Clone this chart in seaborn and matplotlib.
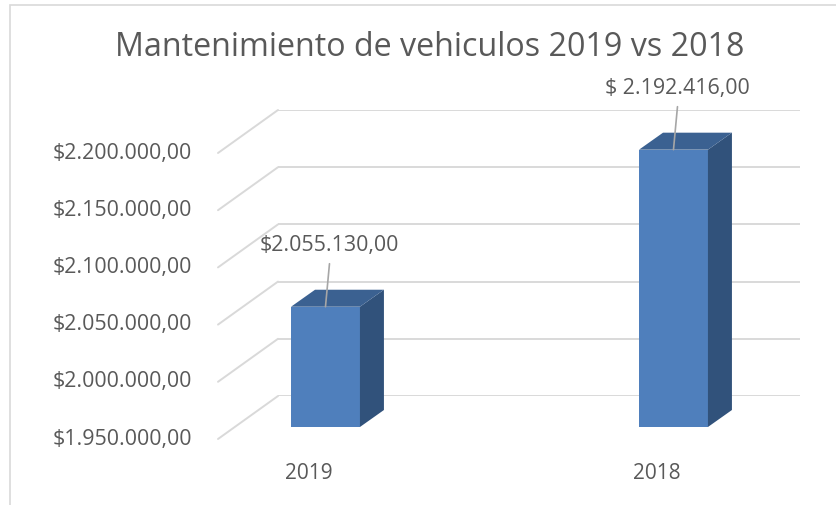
import numpy as np
import pandas as pd
import seaborn as sns
import matplotlib.pyplot as plt
from matplotlib.patches import Polygon, Rectangle
from matplotlib.lines import Line2D
from matplotlib.transforms import ScaledTranslation, IdentityTransform, blended_transform_factory

# data
years = ['2019', '2018']
costs = [2055130.00, 2192416.00]
value_labels = ['$2.055.130,00', '$ 2.192.416,00']
ticks = [1950000, 2000000, 2050000, 2100000, 2150000, 2200000]
tick_labels = ['$1.950.000,00', '$2.000.000,00', '$2.050.000,00',
               '$2.100.000,00', '$2.150.000,00', '$2.200.000,00']
title = 'Mantenimiento de vehiculos 2019 vs 2018'

df = pd.DataFrame({'year': years, 'cost': costs})

sns.set_theme(style='white')
plt.rcParams['font.family'] = ['Open Sans', 'DejaVu Sans']

front_col = '#4f7fbc'
top_col = '#3b6191'
side_col = '#31527b'
grid_col = '#d9d9d9'
text_col = '#595959'

W, H, DPI = 837, 505, 100
fig = plt.figure(figsize=(W / DPI, H / DPI), dpi=DPI)


def shift(dx, dy):
    # offset in image pixels (y down)
    return ScaledTranslation(dx / DPI, -dy / DPI, fig.dpi_scale_trans)


# axes = back wall of the 3d box
ax = fig.add_axes([278 / W, 1 - 396 / H, 522 / W, 286 / H])
sns.barplot(data=df, x='year', y='cost', ax=ax, color=front_col,
            width=0.198, saturation=1, linewidth=0)
ax.set_ylim(ticks[0], ticks[-1])
ax.set_xlim(-0.26, 1.24)
ax.set_yticks(ticks)
ax.yaxis.grid(True, color=grid_col, lw=1.4)
ax.set_axisbelow(True)
ax.tick_params(left=False, bottom=False, labelleft=False, labelbottom=False)
for s in ax.spines.values():
    s.set_visible(False)
ax.set_xlabel('')
ax.set_ylabel('')

base = ticks[0]
wall = (-60, 43)      # side wall depth
front = ax.transData + shift(-43, 31)   # plane of the bar fronts
depth = np.array([24, 17])  # bar depth in display px

# side wall diagonals
for v in ticks:
    p = ax.transData.transform((ax.get_xlim()[0], v))
    ax.add_line(Line2D([p[0], p[0] + wall[0]], [p[1], p[1] - wall[1]],
                       color=grid_col, lw=1.4, transform=IdentityTransform(),
                       clip_on=False))

# y labels on the front edge of the side wall
lab_tr = blended_transform_factory(ax.transAxes, ax.transData) + shift(wall[0] - 26, wall[1])
for v, t in zip(ticks, tick_labels):
    ax.text(0, v, t, transform=lab_tr, ha='right', va='center',
            fontsize=15.4, color=text_col)

# bars with 3d faces
for bar, val, lab, yr in zip(ax.patches, costs, value_labels, years):
    bar.set_y(base)
    bar.set_height(val - base)
    bar.set_transform(front)
    bar.set_clip_on(False)
    x0 = bar.get_x()
    x1 = x0 + bar.get_width()
    pts = front.transform([(x0, base), (x1, base), (x1, val), (x0, val)])
    side = [pts[1], pts[2], pts[2] + depth, pts[1] + depth]
    top = [pts[3], pts[2], pts[2] + depth, pts[3] + depth]
    for poly, c in [(side, side_col), (top, top_col)]:
        ax.add_patch(Polygon(poly, closed=True, facecolor=c, edgecolor='none',
                             transform=IdentityTransform(), clip_on=False))

    xc = x0 + bar.get_width() / 2
    ax.text(xc, val, lab, transform=front + shift(4, -61), ha='center', va='center',
            fontsize=15.4, color=text_col)
    a = front.transform((xc, val))
    ax.add_line(Line2D([a[0] + 4, a[0]], [a[1] + 43, a[1]], color='#a6a6a6', lw=1.2,
                       transform=IdentityTransform(), clip_on=False))

    ax.text(xc, base, yr, transform=ax.transData + shift(wall[0], wall[1] + 34),
            ha='center', va='center', fontsize=15, color=text_col)

fig.text(430 / W, 1 - 48 / H, title, ha='center', va='center', fontsize=23.2,
         color=text_col)

# chart border
fig.patches.append(Rectangle((10 / W, -0.1), 1.2, 1.1 - 4.5 / H, transform=fig.transFigure,
                             facecolor='none', edgecolor=grid_col, lw=1.2))

fig.savefig('out.png', dpi=DPI)
